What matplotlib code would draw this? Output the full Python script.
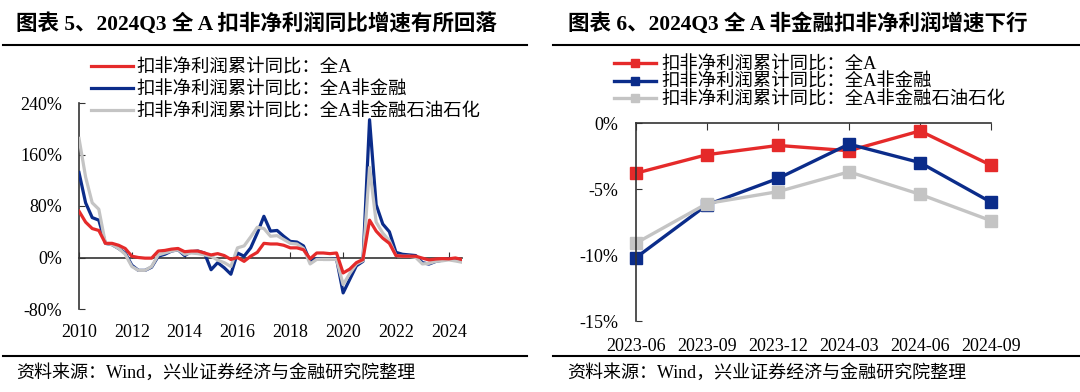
import numpy as np
import matplotlib
matplotlib.use("Agg")
import matplotlib.pyplot as plt

FONT = ["Liberation Serif", "Noto Sans CJK SC"]
plt.rcParams["font.family"] = FONT

# 左图：季度数据 2010Q1 - 2024Q3
years = [2010, 2012, 2014, 2016, 2018, 2020, 2022, 2024]
all_a = [72, 55, 45, 42, 22, 22, 19, 14, 2, 0, -1, -1,
         10, 11, 13, 14, 9, 10, 10, 7, 4, 6, 3, -3,
         0, -6, 2, 8, 22, 21, 21, 19, 15, 15, 12, -2,
         7, 7, 6, 7, -24, -18, -8, -3, 58, 41, 30, 22,
         3, 2, 2, 2, -1, -3.8, -2.4, -1.7, -2.1, -0.7, -3.2]
non_fin = [132, 85, 62, 58, 22, 20, 14, 7, -12, -20, -20, -15,
           2, 5, 10, 12, 3, 9, 10, 7, -19, -8, -16, -26,
           7, 2, 15, 38, 64, 41, 42, 33, 25, 24, 18, -6,
           -2, -3, -3, -2, -55, -34, -13, -6, 214, 82, 52, 40,
           8, 5, 4, 3, -8, -10.2, -6.2, -4.2, -1.6, -3.0, -6.0]
non_fin_oil = [185, 125, 85, 75, 22, 20, 14, 5, -14, -20, -20, -14,
               4, 7, 10, 12, 5, 7, 6, 4, 2, -4, -8, -14,
               15, 18, 32, 47, 45, 33, 34, 28, 22, 21, 14, -10,
               -3, -3, -3, -3, -42, -25, -10, -5, 140, 55, 38, 26,
               3, 2, 2, 0, -10, -9.1, -6.1, -5.2, -3.7, -5.4, -7.4]

# 右图
quarters = ["2023-06", "2023-09", "2023-12", "2024-03", "2024-06", "2024-09"]
r_all_a = [-3.8, -2.4, -1.7, -2.1, -0.6, -3.2]
r_non_fin = [-10.2, -6.2, -4.2, -1.6, -3.0, -6.0]
r_non_fin_oil = [-9.1, -6.1, -5.2, -3.7, -5.4, -7.4]

labels = ["扣非净利润累计同比：全A", "扣非净利润累计同比：全A非金融",
          "扣非净利润累计同比：全A非金融石油石化"]
RED = "#E52A2A"
BLUE = "#0B2C8A"
GRAY = "#C4C4C4"
AX = "#333333"

fig = plt.figure(figsize=(10.8, 3.92), dpi=100)

# 标题与分隔线
fig.text(16 / 1080, 1 - 24 / 392, "图表 5、2024Q3 全 A 扣非净利润同比增速有所回落",
         fontsize=15.5, fontweight="bold", va="center", ha="left")
fig.text(568 / 1080, 1 - 24 / 392, "图表 6、2024Q3 全 A 非金融扣非净利润增速下行",
         fontsize=15.5, fontweight="bold", va="center", ha="left")
for x0, x1 in [(3, 527), (553, 1080)]:
    fig.add_artist(plt.Line2D([x0 / 1080, x1 / 1080], [1 - 45 / 392] * 2,
                              color="black", lw=1.5))
    fig.add_artist(plt.Line2D([x0 / 1080, x1 / 1080], [1 - 356 / 392] * 2,
                              color="black", lw=1.5))
fig.text(16 / 1080, 1 - 373 / 392, "资料来源：Wind，兴业证券经济与金融研究院整理",
         fontsize=13, va="center", ha="left")
fig.text(567 / 1080, 1 - 373 / 392, "资料来源：Wind，兴业证券经济与金融研究院整理",
         fontsize=13, va="center", ha="left")

# ---- 左图 ----
ax1 = fig.add_axes([79 / 1080, 1 - 309 / 392, 383 / 1080, 206 / 392])
q = np.arange(len(all_a))
ax1.plot(q, non_fin, color=BLUE, lw=2.3, label=labels[1], zorder=3)
ax1.plot(q, non_fin_oil, color=GRAY, lw=2.3, label=labels[2], zorder=4)
ax1.plot(q, all_a, color=RED, lw=2.3, label=labels[0], zorder=5)
ax1.set_xlim(0, len(all_a) - 1)
ax1.set_ylim(-80, 240)
ax1.set_yticks([-80, 0, 80, 160, 240])
ax1.set_yticklabels(["-80%", "0%", "80%", "160%", "240%"])
ax1.set_xticks([(y - 2010) * 4 for y in years])
ax1.set_xticklabels([str(y) for y in years])
for s in ["top", "right", "bottom"]:
    ax1.spines[s].set_visible(False)
ax1.spines["left"].set_color(AX)
ax1.spines["left"].set_linewidth(1.2)
ax1.tick_params(axis="y", direction="in", length=4, color=AX, pad=12, labelsize=13)
ax1.tick_params(axis="x", length=0, pad=11, labelsize=13)
zero1 = ax1.secondary_xaxis(80 / 320)
zero1.set_xticks([(y - 2010) * 4 for y in years])
zero1.tick_params(direction="in", length=4, color=AX, labelbottom=False)
zero1.spines["bottom"].set_color(AX)
zero1.spines["bottom"].set_linewidth(1.2)
h, l = ax1.get_legend_handles_labels()
order = [2, 0, 1]
ax1.legend([h[i] for i in order], [l[i] for i in order],
           loc="upper left", bbox_to_anchor=(91 / 1080, 1 - 59 / 392),
           bbox_transform=fig.transFigure, frameon=False, fontsize=13.2,
           handlelength=2.3, handletextpad=0.2, labelspacing=0.27,
           borderpad=0, borderaxespad=0)

# ---- 右图 ----
ax2 = fig.add_axes([636 / 1080, 1 - 321 / 392, 355 / 1080, 198 / 392])
x = np.arange(len(quarters))
for vals, c, lab in [(r_all_a, RED, labels[0]), (r_non_fin, BLUE, labels[1]),
                     (r_non_fin_oil, GRAY, labels[2])]:
    ax2.plot(x, vals, color=c, lw=2.4, marker="s", markersize=8,
             label=lab, clip_on=False)
ax2.set_xlim(0, len(quarters) - 1)
ax2.set_ylim(-15, 0)
ax2.set_yticks([-15, -10, -5, 0])
ax2.set_yticklabels(["-15%", "-10%", "-5%", "0%"])
ax2.set_xticks(x)
ax2.set_xticklabels(quarters)
for s in ["right", "bottom"]:
    ax2.spines[s].set_visible(False)
for s in ["left", "top"]:
    ax2.spines[s].set_color(AX)
    ax2.spines[s].set_linewidth(1.2)
ax2.tick_params(axis="y", direction="in", length=4, color=AX, pad=13, labelsize=13)
ax2.tick_params(axis="x", direction="in", top=True, bottom=False, length=5,
                color=AX, pad=12, labelsize=13)
ax2.legend(loc="upper left", bbox_to_anchor=(614 / 1080, 1 - 56 / 392),
           bbox_transform=fig.transFigure, frameon=False, fontsize=13.2,
           handlelength=2.3, handletextpad=0.3, labelspacing=0.03,
           borderpad=0, borderaxespad=0, markerscale=0.8)

fig.savefig("out.png", dpi=100)
